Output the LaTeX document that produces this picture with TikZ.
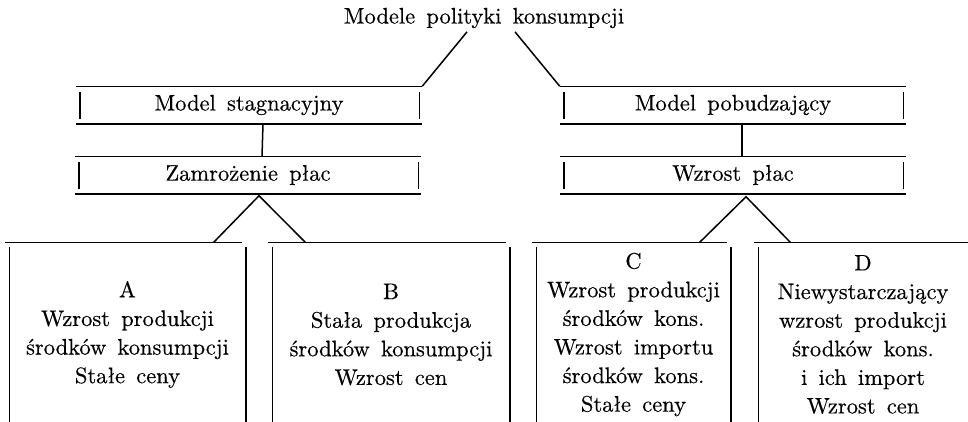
\documentclass[tikz,border=0pt]{standalone}
\usepackage{fontspec}
\setmainfont{lmroman10-regular.otf}[WordSpace=1.5,FakeBold=0.4]
\begin{document}
\begin{tikzpicture}[x=1pt,y=-1pt,line width=1.5pt,
  txt/.style={font=\fontsize{22.5}{28.6}\selectfont,inner sep=0},
  flatbox/.style={txt,minimum width=345,minimum height=36},
  tallbox/.style={txt,align=center,minimum height=173}]
\useasboundingbox (0,0) rectangle (968,421);
\node[txt] (title) at (484,18) {Modele polityki konsumpcji};
\node[flatbox] (stag) at (249,105) {Model stagnacyjny};
\node[flatbox] (zamr) at (248,175) {Zamrożenie płac};
\node[flatbox] (pobud) at (733,105) {Model pobudzający};
\node[flatbox] (wzrost) at (733,175) {Wzrost płac};
\node[tallbox,minimum width=235] (A) at (127.5,334.5) {A\\Wzrost produkcji\\środków konsumpcji\\Stałe ceny};
\node[tallbox,minimum width=236] (B) at (391,334.5) {B\\Stała produkcja\\środków konsumpcji\\Wzrost cen};
\node[tallbox,minimum width=193] (C) at (633.5,334.5) {C\\Wzrost produkcji\\środków kons.\\Wzrost importu\\środków kons.\\Stałe ceny};
\node[tallbox,minimum width=208] (D) at (863,334.5) {D\\Niewystarczający\\wzrost produkcji\\środków kons.\\i ich import\\Wzrost cen};
% open boxes of the two upper rows
\foreach \n in {stag,zamr,pobud,wzrost}
  \draw (\n.north west) -- (\n.north east) (\n.south west) -- (\n.south east)
    ([xshift=4,yshift=-6]\n.north west) -- ([xshift=4,yshift=5]\n.south west)
    ([xshift=-3,yshift=-6]\n.north east) -- ([xshift=-3,yshift=5]\n.south east);
% lower boxes, cut at the bottom
\foreach \n in {A,B,C}
  \draw ([xshift=-4,yshift=5]\n.north west) -- ([xshift=-4,yshift=5]\n.north east)
    (\n.north west) -- (\n.south west) (\n.north east) -- (\n.south east);
\draw ([xshift=-4,yshift=5]D.north west) -- ([xshift=5,yshift=5]D.north east)
  (D.north west) -- (D.south west);
% connectors
\draw ([xshift=-17,yshift=-3]title.south) -- (stag.north east);
\draw ([xshift=31,yshift=-3]title.south) -- (pobud.north west);
\draw ([xshift=14]stag.south) -- ([xshift=14]zamr.north);
\draw ([xshift=9]pobud.south) -- ([xshift=9]wzrost.north);
\draw ([xshift=-32,yshift=5]A.north east) -- ([xshift=11,yshift=-2]zamr.south)
  -- ([xshift=33,yshift=5]B.north west);
\draw ([xshift=-31,yshift=5]C.north east) -- ([xshift=13,yshift=-3]wzrost.south)
  -- ([xshift=32,yshift=5]D.north west);
\end{tikzpicture}
\end{document}
